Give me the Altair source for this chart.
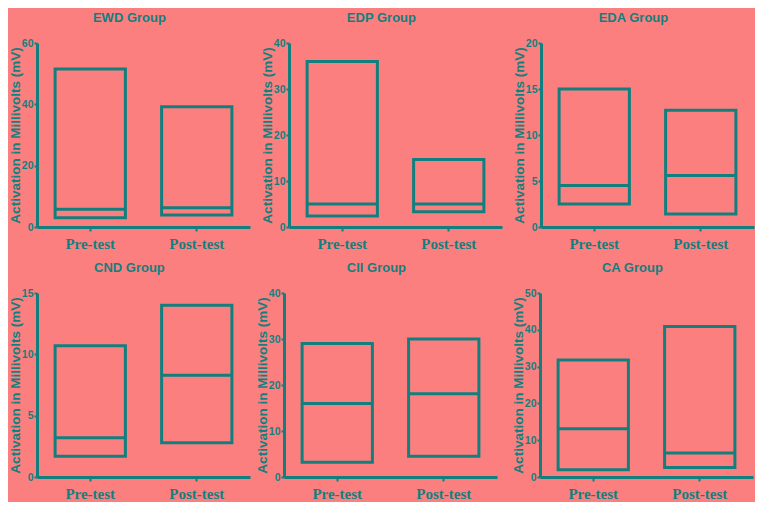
import altair as alt
import pandas as pd

TEAL = "#127F7F"
BG = "#FC7F7F"

groups = ["EWD Group", "EDP Group", "EDA Group", "CND Group", "CII Group", "CA Group"]
tests = ["Pre-test", "Post-test"]
mins = [[3.0, 3.9], [2.4, 3.3], [2.5, 1.4], [1.7, 2.8], [3.2, 4.5], [2.0, 2.6]]
medians = [[5.8, 6.3], [5.0, 5.0], [4.5, 5.6], [3.2, 8.3], [16.0, 18.1], [13.1, 6.5]]
maxs = [[51.5, 39.2], [36.0, 14.7], [15.0, 12.7], [10.7, 14.0], [29.0, 30.0], [31.8, 40.9]]
y_max = [60, 40, 20, 15, 40, 50]
y_ticks = [
    [0, 20, 40, 60],
    [0, 10, 20, 30, 40],
    [0, 5, 10, 15, 20],
    [0, 5, 10, 15],
    [0, 10, 20, 30, 40],
    [0, 10, 20, 30, 40, 50],
]
y_title = "Activation in Millivolts (mV)"


def panel(i):
    df = pd.DataFrame({"test": tests, "lo": mins[i], "med": medians[i], "hi": maxs[i]})
    x = alt.X(
        "test:N",
        sort=tests,
        scale=alt.Scale(paddingInner=0.34, paddingOuter=0.17),
        axis=alt.Axis(
            title=None,
            labelAngle=0,
            labelFont="Liberation Serif",
            labelFontWeight="bold",
            labelFontSize=15,
            labelPadding=5,
            tickSize=4,
        ),
    )
    yscale = alt.Scale(domain=[0, y_max[i]], nice=False, zero=True)
    yaxis = alt.Axis(
        values=y_ticks[i],
        title=y_title,
        labelOverlap=False,
        labelFont="Liberation Sans",
        labelFontWeight="bold",
        labelFontSize=10.5,
        labelPadding=1,
        tickSize=3,
        titleFont="Liberation Sans",
        titleFontWeight="bold",
        titleFontSize=13.5,
        titlePadding=-1.5,
    )
    box = alt.Chart(df).mark_bar(fill="transparent", stroke=TEAL, strokeWidth=3).encode(
        x=x,
        y=alt.Y("lo:Q", scale=yscale, axis=yaxis),
        y2="hi:Q",
    )
    med = alt.Chart(df).mark_bar(fill="transparent", stroke=TEAL, strokeWidth=3).encode(
        x=x,
        y=alt.Y("med:Q", scale=yscale, axis=yaxis),
        y2="med:Q",
    )
    return alt.layer(box, med).properties(
        width=213,
        height=184,
        title=alt.TitleParams(
            groups[i],
            font="Liberation Sans",
            fontWeight="bold",
            fontSize=13,
            color=TEAL,
            anchor="middle",
            frame="bounds",
            offset=13,
        ),
    )


p = [panel(i) for i in range(6)]
row1 = alt.hconcat(p[0], p[1], p[2], spacing=39, bounds="flush")
row2 = alt.hconcat(p[3], alt.hconcat(p[4], p[5], spacing=43, bounds="flush"), spacing=4)

chart = (
    alt.vconcat(row1, row2, spacing=9)
    .properties(padding={"top": 3, "left": 0, "right": 0, "bottom": 0}, background=BG)
    .configure_view(stroke="transparent")
    .configure_axis(
        grid=False,
        domainColor=TEAL,
        domainWidth=3,
        tickColor=TEAL,
        tickWidth=2,
        labelColor=TEAL,
        titleColor=TEAL,
    )
)

chart.save("out.html", embed_options={"renderer": "svg", "actions": False})
